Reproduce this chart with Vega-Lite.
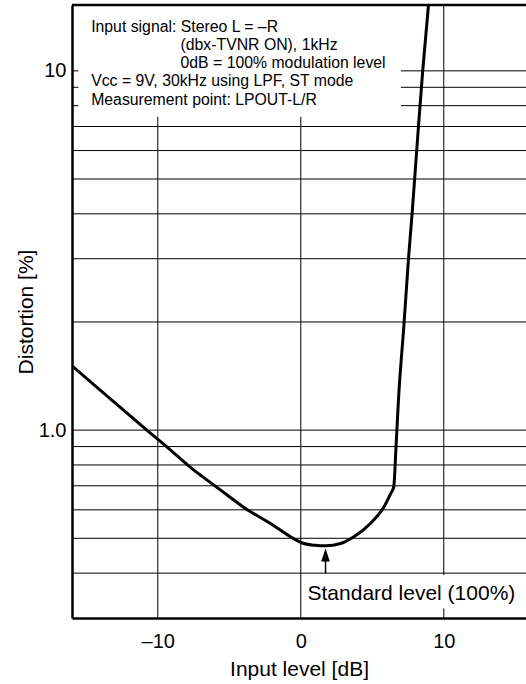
{
  "$schema": "https://vega.github.io/schema/vega-lite/v6.json",
  "width": 454,
  "height": 613,
  "autosize": {"type": "none"},
  "padding": {"left": 72, "top": 5, "right": 0, "bottom": 66},
  "background": "white",
  "config": {
    "view": {"stroke": null},
    "font": "Liberation Sans",
    "text": {"font": "Liberation Sans", "color": "black"},
    "axis": {
      "grid": false,
      "ticks": false,
      "domainColor": "black",
      "domainWidth": 2.5,
      "labelFont": "Liberation Sans",
      "labelFontSize": 20,
      "labelColor": "black",
      "labelFlush": false,
      "labelOverlap": false,
      "titleFont": "Liberation Sans",
      "titleFontSize": 21,
      "titleFontWeight": "normal",
      "titleColor": "black"
    },
    "axisX": {"labelPadding": 13, "titlePadding": 7},
    "axisY": {"labelPadding": 6, "titlePadding": 2}
  },
  "datasets": {
    "curve": [
      {"x": -16, "y": 1.51},
      {"x": -13.3, "y": 1.22},
      {"x": -10.5, "y": 0.98},
      {"x": -9.39, "y": 0.9},
      {"x": -7.48, "y": 0.774},
      {"x": -6.55, "y": 0.726},
      {"x": -5.15, "y": 0.66},
      {"x": -3.87, "y": 0.605},
      {"x": -2.12, "y": 0.55},
      {"x": -0.72, "y": 0.505},
      {"x": 0.21, "y": 0.4835},
      {"x": 1.0, "y": 0.478},
      {"x": 1.73, "y": 0.4763},
      {"x": 2.78, "y": 0.4835},
      {"x": 3.71, "y": 0.505},
      {"x": 4.87, "y": 0.55},
      {"x": 5.8, "y": 0.61},
      {"x": 6.27, "y": 0.664},
      {"x": 6.5, "y": 0.695},
      {"x": 6.66, "y": 0.898},
      {"x": 6.83, "y": 1.212},
      {"x": 7.22, "y": 1.98},
      {"x": 7.54, "y": 3.03},
      {"x": 7.79, "y": 4.03},
      {"x": 8.16, "y": 6.42},
      {"x": 8.53, "y": 10.05},
      {"x": 8.93, "y": 15.25}
    ],
    "hfull": [
      {"y": 0.4}, {"y": 0.5}, {"y": 0.6}, {"y": 0.7}, {"y": 0.8}, {"y": 0.9},
      {"y": 1}, {"y": 2}, {"y": 3}, {"y": 4}, {"y": 5}, {"y": 6}, {"y": 7}
    ],
    "border": [{"y": 15.25}],
    "hshort": [
      {"y": 8, "x": 7, "x2": 15.75},
      {"y": 9, "x": 7, "x2": 15.75},
      {"y": 10, "x": 7, "x2": 15.75},
      {"y": 8, "x": -16, "x2": -15.55},
      {"y": 9, "x": -16, "x2": -15.55},
      {"y": 10, "x": -16, "x2": -15.55}
    ],
    "vgrid": [
      {"x": -10, "y": 0.3, "y2": 7.45},
      {"x": 0, "y": 0.3, "y2": 7.45},
      {"x": 10, "y": 0.3, "y2": 0.319},
      {"x": 10, "y": 0.395, "y2": 15.25}
    ],
    "notes": [
      {"x": -14.66, "y": 12.85, "t": "Input signal: Stereo L = –R"},
      {"x": -8.41, "y": 11.43, "t": "(dbx-TVNR ON), 1kHz"},
      {"x": -8.41, "y": 10.17, "t": "0dB = 100% modulation level"},
      {"x": -14.66, "y": 9.05, "t": "Vcc = 9V, 30kHz using LPF, ST mode"},
      {"x": -14.66, "y": 8.05, "t": "Measurement point: LPOUT-L/R"}
    ],
    "stdlabel": [{"x": 0.47, "y": 0.3373, "t": "Standard level (100%)"}],
    "arrow": [{"x": 1.73, "y": 0.399, "y2": 0.4346}],
    "arrowhead": [{"x": 1.73, "y": 0.4494}]
  },
  "layer": [
    {
      "data": {"name": "hfull"},
      "mark": {"type": "rule", "color": "black", "strokeWidth": 1},
      "encoding": {
        "y": {"field": "y", "type": "quantitative", "scale": {"type": "log", "domain": [0.3, 15.25], "nice": false},
              "axis": {"title": "Distortion [%]", "values": [1, 10], "labelExpr": "datum.value == 1 ? '1.0' : '10'"}}
      }
    },
    {
      "data": {"name": "border"},
      "mark": {"type": "rule", "color": "black", "strokeWidth": 2.5},
      "encoding": {
        "y": {"field": "y", "type": "quantitative", "scale": {"type": "log", "domain": [0.3, 15.25], "nice": false},
              "axis": {"title": "Distortion [%]", "values": [1, 10], "labelExpr": "datum.value == 1 ? '1.0' : '10'"}}
      }
    },
    {
      "data": {"name": "hshort"},
      "mark": {"type": "rule", "color": "black", "strokeWidth": 1},
      "encoding": {
        "x": {"field": "x", "type": "quantitative", "scale": {"type": "linear", "domain": [-16, 15.75], "nice": false, "zero": false},
              "axis": {"title": "Input level [dB]", "values": [-10, 0, 10], "labelExpr": "replace(datum.label, '−', '–')"}},
        "x2": {"field": "x2"},
        "y": {"field": "y", "type": "quantitative", "scale": {"type": "log", "domain": [0.3, 15.25], "nice": false},
              "axis": {"title": "Distortion [%]", "values": [1, 10], "labelExpr": "datum.value == 1 ? '1.0' : '10'"}}
      }
    },
    {
      "data": {"name": "vgrid"},
      "mark": {"type": "rule", "color": "black", "strokeWidth": 1},
      "encoding": {
        "x": {"field": "x", "type": "quantitative", "scale": {"type": "linear", "domain": [-16, 15.75], "nice": false, "zero": false},
              "axis": {"title": "Input level [dB]", "values": [-10, 0, 10], "labelExpr": "replace(datum.label, '−', '–')"}},
        "y": {"field": "y", "type": "quantitative", "scale": {"type": "log", "domain": [0.3, 15.25], "nice": false},
              "axis": {"title": "Distortion [%]", "values": [1, 10], "labelExpr": "datum.value == 1 ? '1.0' : '10'"}},
        "y2": {"field": "y2"}
      }
    },
    {
      "data": {"name": "curve"},
      "mark": {"type": "line", "color": "black", "strokeWidth": 3, "interpolate": "monotone", "clip": true},
      "encoding": {
        "x": {"field": "x", "type": "quantitative", "scale": {"type": "linear", "domain": [-16, 15.75], "nice": false, "zero": false},
              "axis": {"title": "Input level [dB]", "values": [-10, 0, 10], "labelExpr": "replace(datum.label, '−', '–')"}},
        "y": {"field": "y", "type": "quantitative", "scale": {"type": "log", "domain": [0.3, 15.25], "nice": false},
              "axis": {"title": "Distortion [%]", "values": [1, 10], "labelExpr": "datum.value == 1 ? '1.0' : '10'"}}
      }
    },
    {
      "data": {"name": "arrow"},
      "mark": {"type": "rule", "color": "black", "strokeWidth": 1.5},
      "encoding": {
        "x": {"field": "x", "type": "quantitative", "scale": {"type": "linear", "domain": [-16, 15.75], "nice": false, "zero": false},
              "axis": {"title": "Input level [dB]", "values": [-10, 0, 10], "labelExpr": "replace(datum.label, '−', '–')"}},
        "y": {"field": "y", "type": "quantitative", "scale": {"type": "log", "domain": [0.3, 15.25], "nice": false},
              "axis": {"title": "Distortion [%]", "values": [1, 10], "labelExpr": "datum.value == 1 ? '1.0' : '10'"}},
        "y2": {"field": "y2"}
      }
    },
    {
      "data": {"name": "arrowhead"},
      "mark": {"type": "point", "shape": "M0,-1L0.67,1L-0.67,1Z", "size": 169, "filled": true, "color": "black", "opacity": 1, "strokeWidth": 0},
      "encoding": {
        "x": {"field": "x", "type": "quantitative", "scale": {"type": "linear", "domain": [-16, 15.75], "nice": false, "zero": false},
              "axis": {"title": "Input level [dB]", "values": [-10, 0, 10], "labelExpr": "replace(datum.label, '−', '–')"}},
        "y": {"field": "y", "type": "quantitative", "scale": {"type": "log", "domain": [0.3, 15.25], "nice": false},
              "axis": {"title": "Distortion [%]", "values": [1, 10], "labelExpr": "datum.value == 1 ? '1.0' : '10'"}}
      }
    },
    {
      "data": {"name": "notes"},
      "mark": {"type": "text", "align": "left", "baseline": "alphabetic", "fontSize": 15.8, "color": "black"},
      "encoding": {
        "x": {"field": "x", "type": "quantitative", "scale": {"type": "linear", "domain": [-16, 15.75], "nice": false, "zero": false},
              "axis": {"title": "Input level [dB]", "values": [-10, 0, 10], "labelExpr": "replace(datum.label, '−', '–')"}},
        "y": {"field": "y", "type": "quantitative", "scale": {"type": "log", "domain": [0.3, 15.25], "nice": false},
              "axis": {"title": "Distortion [%]", "values": [1, 10], "labelExpr": "datum.value == 1 ? '1.0' : '10'"}},
        "text": {"field": "t"}
      }
    },
    {
      "data": {"name": "stdlabel"},
      "mark": {"type": "text", "align": "left", "baseline": "alphabetic", "fontSize": 21, "color": "black"},
      "encoding": {
        "x": {"field": "x", "type": "quantitative", "scale": {"type": "linear", "domain": [-16, 15.75], "nice": false, "zero": false},
              "axis": {"title": "Input level [dB]", "values": [-10, 0, 10], "labelExpr": "replace(datum.label, '−', '–')"}},
        "y": {"field": "y", "type": "quantitative", "scale": {"type": "log", "domain": [0.3, 15.25], "nice": false},
              "axis": {"title": "Distortion [%]", "values": [1, 10], "labelExpr": "datum.value == 1 ? '1.0' : '10'"}},
        "text": {"field": "t"}
      }
    }
  ]
}
